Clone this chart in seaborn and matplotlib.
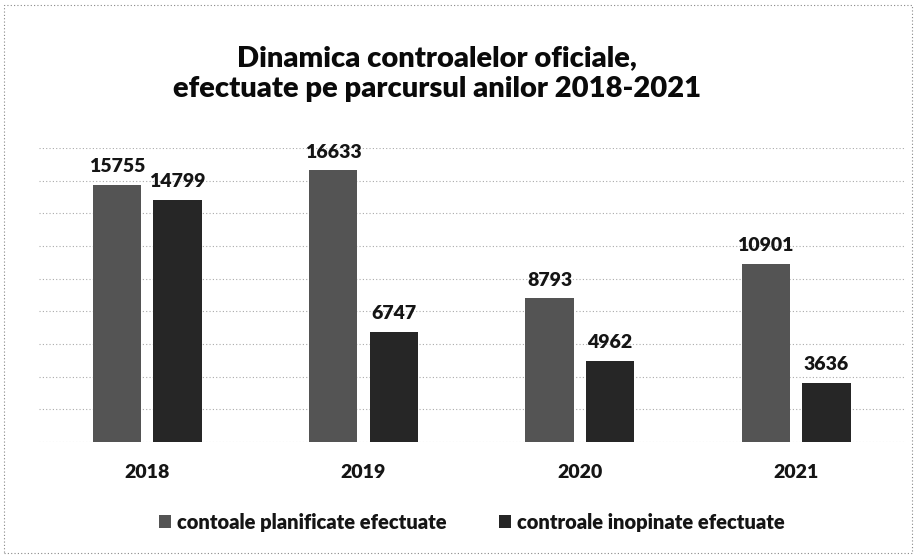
import pandas as pd
import seaborn as sns
import matplotlib.pyplot as plt
from matplotlib.patches import Rectangle

# chart data
years = ["2018", "2019", "2020", "2021"]
planificate = [15755, 16633, 8793, 10901]
inopinate = [14799, 6747, 4962, 3636]
series = ["contoale planificate efectuate", "controale inopinate efectuate"]

df = pd.DataFrame({
    "an": years * 2,
    "valoare": planificate + inopinate,
    "tip": [series[0]] * 4 + [series[1]] * 4,
})

sns.set_style("white")
plt.rcParams["font.family"] = ["Lato", "DejaVu Sans"]

fig = plt.figure(figsize=(9.18, 5.56), dpi=100)
ax = fig.add_axes([0.0425, 0.205, 0.9425, 0.529])

sns.barplot(data=df, x="an", y="valoare", hue="tip", ax=ax,
            palette=["#545454", "#262626"], width=0.56, gap=0.2,
            edgecolor="none", legend=True)

for c in ax.containers:
    ax.bar_label(c, fmt="%d", padding=7, fontsize=14, fontweight="heavy", color="#151515")

ax.set_ylim(0, 18000)
ax.set_xlim(-0.5, 3.5)
ax.set_yticks(range(0, 18001, 2000))
ax.yaxis.grid(True, linestyle=(0, (1, 2)), color="#aaaaaa", linewidth=0.8)
ax.set_axisbelow(True)
ax.set_yticklabels([])
ax.tick_params(axis="y", length=0)
ax.tick_params(axis="x", length=0, pad=16)
for lbl in ax.get_xticklabels():
    lbl.set_fontsize(14)
    lbl.set_fontweight("heavy")
    lbl.set_color("#151515")
ax.set_xlabel("")
ax.set_ylabel("")
sns.despine(ax=ax, left=True, bottom=True)

leg = ax.legend(loc="center", bbox_to_anchor=(0.50, -0.272), ncol=2, frameon=False,
                handlelength=0.6, handleheight=0.6, handletextpad=0.3, columnspacing=2.6,
                prop={"weight": "heavy", "size": 14.5})
for t in leg.get_texts():
    t.set_color("#151515")

fig.text(0.476, 0.868, "Dinamica controalelor oficiale,\nefectuate pe parcursul anilor 2018-2021",
         ha="center", va="center", fontsize=21, fontweight="heavy", linespacing=1.25,
         color="#0a0a0a")

fig.patches.append(Rectangle((0.004, 0.006), 0.99, 0.985, transform=fig.transFigure,
                             fill=False, linestyle=(0, (1, 2)), edgecolor="#888888",
                             linewidth=0.8))

fig.savefig("out.png", dpi=100)
